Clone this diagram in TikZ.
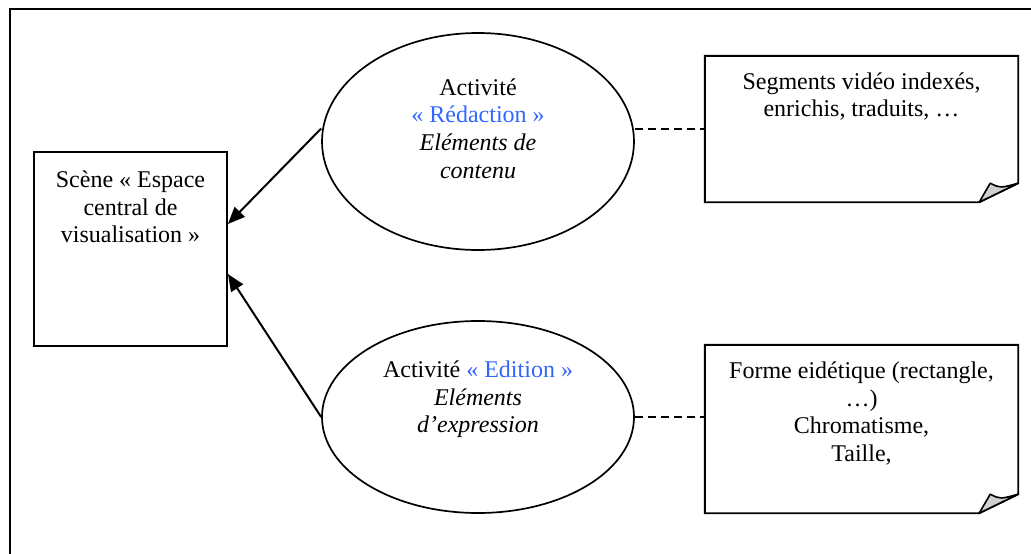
\documentclass[tikz,border=0pt]{standalone}
\usepackage{fontspec}
\setmainfont{Liberation Serif}
\usetikzlibrary{shapes.geometric,arrows.meta,calc}
\definecolor{actblue}{HTML}{3366FF}
\definecolor{foldgray}{HTML}{D0D0D0}
\begin{document}
\begin{tikzpicture}[x=1pt,y=-1pt,
  every node/.style={font=\fontsize{24}{27.6}\selectfont},
  txt/.style={align=center,inner sep=0pt},
  boxshape/.style={draw,line width=1.8pt,inner sep=0pt},
  ell/.style={draw,ellipse,line width=1.7pt,inner sep=0pt},
  holder/.style={inner sep=0pt},
  notebox/.style={draw,line width=1.9pt,line join=miter},
  fold/.style={draw,fill=foldgray,line width=1.6pt,line join=round},
  arr/.style={line width=2pt,-{Triangle[length=17pt,width=14pt]}},
  link/.style={line width=1.6pt,dash pattern=on 8pt off 5pt}]
\useasboundingbox (0,0) rectangle (1031,554);
\begin{scope}
\clip (0,0) rectangle (1031,554);
\draw[line width=2.2pt] (10,9) rectangle (1045,570);
\end{scope}

% scene box
\node[boxshape,minimum width=193pt,minimum height=194pt] (scene) at (130.5,249) {};
\node[txt] (scenetxt) at (130.5,207) {Scène « Espace\\central de\\visualisation »};

% ellipses
\node[ell,minimum width=312pt,minimum height=217pt] (e1) at (478,141.5) {};
\node[txt] (e1txt) at (478,128.5) {Activité\\\textcolor{actblue}{« Rédaction »}\\\textit{Eléments de}\\\textit{contenu}};
\node[ell,minimum width=312pt,minimum height=192pt] (e2) at (478,417) {};
\node[txt] (e2txt) at (478,399.5) {Activité \textcolor{actblue}{« Edition »}\\\textit{Eléments}\\\textit{d’expression}};

% notes
\node[holder,minimum width=313pt,minimum height=146pt] (n1) at (861.5,129) {};
\node[holder,minimum width=313pt,minimum height=168pt] (n2) at (861.5,429) {};
\foreach \n in {n1,n2}{
  \draw[notebox] (\n.north west) -- (\n.north east) -- ([yshift=19pt]\n.south east)
     -- ([xshift=-39pt]\n.south east) -- (\n.south west) -- cycle;
  \draw[fold] ([xshift=-39pt]\n.south east) -- ([xshift=-28pt,yshift=19pt]\n.south east)
     .. controls ([xshift=-18pt,yshift=14pt]\n.south east) .. ([yshift=19pt]\n.south east) -- cycle;
}
\node[txt] (n1txt) at (861.5,96.5) {Segments vidéo indexés,\\enrichis, traduits, …};
\node[txt] (n2txt) at (861.5,413.5) {Forme eidétique (rectangle,\\…)\\Chromatisme,\\Taille,};

% connectors
\draw[arr] ([yshift=13pt]e1.west) -- ([yshift=25pt]scene.east);
\draw[arr] (e2.west) -- ([yshift=-25pt]scene.east);
\draw[link] (e1.east |- n1.west) -- (n1.west);
\draw[link] (e2.east) -- (e2.east -| n2.west);
\end{tikzpicture}
\end{document}
